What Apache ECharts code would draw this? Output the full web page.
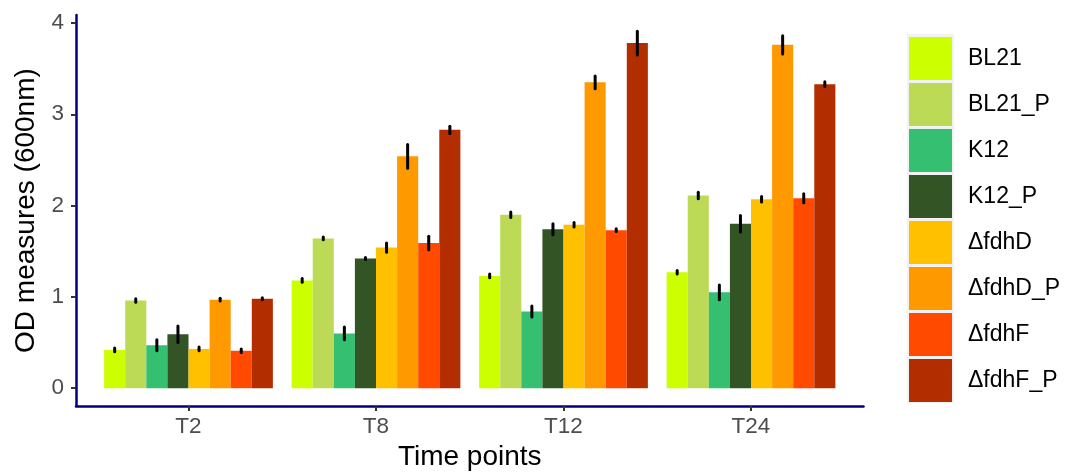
<!DOCTYPE html>
<html>
<head>
<meta charset="utf-8">
<script src="https://cdn.jsdelivr.net/npm/echarts@6/dist/echarts.min.js"></script>
<style>
html,body{margin:0;padding:0;background:#fff;}
#chart{width:1066px;height:476px;}
</style>
</head>
<body>
<div id="chart"></div>
<script>
// ---- data ----
const categories = ['T2', 'T8', 'T12', 'T24'];
const strains = ['BL21', 'BL21_P', 'K12', 'K12_P', 'ΔfdhD', 'ΔfdhD_P', 'ΔfdhF', 'ΔfdhF_P'];
const colors = ['#CCFF00', '#BDDA57', '#34BF71', '#335526', '#FFC000', '#FF9900', '#FF4A00', '#B22E00'];

const BL21      = [0.42, 1.18, 1.23, 1.27];
const BL21_P    = [0.96, 1.64, 1.90, 2.11];
const K12       = [0.47, 0.60, 0.84, 1.05];
const K12_P     = [0.59, 1.42, 1.74, 1.80];
const fdhD      = [0.43, 1.54, 1.79, 2.07];
const fdhD_P    = [0.97, 2.54, 3.35, 3.76];
const fdhF      = [0.41, 1.59, 1.73, 2.08];
const fdhF_P    = [0.98, 2.83, 3.78, 3.33];

const BL21_err   = [0.02, 0.02, 0.02, 0.02];
const BL21_P_err = [0.02, 0.015, 0.03, 0.035];
const K12_err    = [0.06, 0.07, 0.06, 0.08];
const K12_P_err  = [0.09, 0.01, 0.06, 0.09];
const fdhD_err   = [0.02, 0.05, 0.025, 0.03];
const fdhD_P_err = [0.015, 0.13, 0.07, 0.10];
const fdhF_err   = [0.02, 0.075, 0.015, 0.05];
const fdhF_P_err = [0.01, 0.04, 0.13, 0.025];

const yTicks = [0, 1, 2, 3, 4];

const values = [BL21, BL21_P, K12, K12_P, fdhD, fdhD_P, fdhF, fdhF_P];
const errors = [BL21_err, BL21_P_err, K12_err, K12_P_err, fdhD_err, fdhD_P_err, fdhF_err, fdhF_P_err];

const FONT = '"Liberation Sans", Arial, Helvetica, sans-serif';
const nS = strains.length;

function makeSeries(i) {
  const data = categories.map((c, j) => [j + 1, values[i][j], errors[i][j]]);
  return {
    type: 'custom',
    name: strains[i],
    itemStyle: { color: colors[i] },
    encode: { x: 0, y: 1 },
    data: data,
    renderItem: function (params, api) {
      const x = api.value(0), v = api.value(1), e = api.value(2);
      const unit = api.size([1, 0])[0];
      const w = unit * 0.9 / nS;
      const base = api.coord([x, 0]);
      const cx = base[0] + (i - (nS - 1) / 2) * w;
      const top = api.coord([x, v])[1];
      const eTop = api.coord([x, v + e])[1];
      const eBot = api.coord([x, v - e])[1];
      return {
        type: 'group',
        children: [
          { type: 'rect', shape: { x: cx - w / 2, y: top, width: w, height: base[1] - top }, style: { fill: colors[i] } },
          { type: 'line', shape: { x1: cx, y1: eTop, x2: cx, y2: eBot }, style: { stroke: '#000', lineWidth: 3, lineCap: 'round' } }
        ]
      };
    }
  };
}

const chart = echarts.init(document.getElementById('chart'));
chart.setOption({
  animation: false,
  backgroundColor: '#fff',
  grid: { left: 76, right: 202.5, top: 15, bottom: 67, containLabel: false },
  xAxis: {
    type: 'value',
    min: 0.4,
    max: 4.6,
    name: 'Time points',
    nameLocation: 'middle',
    nameGap: 35,
    nameTextStyle: { fontSize: 28, color: '#000', fontFamily: FONT },
    axisLine: { show: true, onZero: false, lineStyle: { color: '#00007F', width: 2.5 } },
    axisTick: { show: true, length: 5, customValues: [1, 2, 3, 4], lineStyle: { color: '#333', width: 2 } },
    axisLabel: {
      customValues: [1, 2, 3, 4],
      formatter: v => categories[Math.round(v) - 1],
      fontSize: 22.5, color: '#4d4d4d', fontFamily: FONT, margin: 9
    },
    splitLine: { show: false }
  },
  yAxis: {
    type: 'value',
    min: -0.196,
    max: 4.087,
    name: 'OD measures (600nm)',
    nameLocation: 'middle',
    nameGap: 34,
    nameRotate: 90,
    nameTextStyle: { fontSize: 28, color: '#000', fontFamily: FONT },
    axisLine: { show: true, onZero: false, lineStyle: { color: '#00007F', width: 2.5 } },
    axisTick: { show: true, length: 5, customValues: yTicks, lineStyle: { color: '#333', width: 2 } },
    axisLabel: {
      customValues: yTicks,
      fontSize: 22.5, color: '#4d4d4d', fontFamily: FONT, margin: 12
    },
    splitLine: { show: false }
  },
  legend: {
    orient: 'vertical',
    left: 909,
    top: 37,
    padding: 0,
    itemWidth: 43,
    itemHeight: 43,
    itemGap: 3,
    icon: 'rect',
    z: 10,
    data: strains.map((s, i) => ({ name: s, itemStyle: { color: colors[i], borderWidth: 0 } })),
    textStyle: { fontSize: 23, color: '#000', fontFamily: FONT, padding: [0, 0, 0, 11] }
  },
  graphic: [{
    type: 'rect', z: 1, silent: true,
    shape: { x: 907, y: 34, width: 47, height: 369 },
    style: { fill: '#F2F2F2' }
  }],
  series: strains.map((s, i) => makeSeries(i))
});
</script>
</body>
</html>
